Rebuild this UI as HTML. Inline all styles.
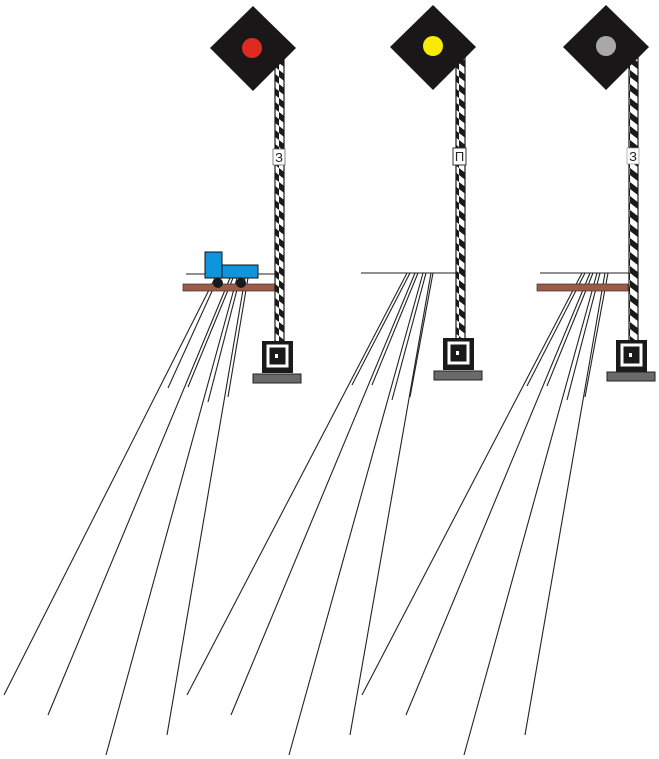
<!DOCTYPE html>
<html><head><meta charset="utf-8"><style>body{margin:0;background:#fff}svg{display:block}</style></head>
<body>
<svg width="659" height="759" viewBox="0 0 659 759" xmlns="http://www.w3.org/2000/svg" font-family="Liberation Sans, DejaVu Sans, sans-serif">
<defs>
<pattern id="st" width="9" height="14" patternUnits="userSpaceOnUse">
<rect width="9" height="14" fill="#fff"/>
<polygon points="0,0 9,7 9,14 0,7" fill="#1a1a1a"/>
</pattern>
<g id="base">
<rect x="0" y="0" width="31" height="32" fill="#1a1a1a"/>
<rect x="6" y="5" width="19" height="20" fill="none" stroke="#fff" stroke-width="3"/>
<rect x="13" y="13" width="3" height="4" fill="#fff"/>
</g>
</defs>
<g stroke="#222" stroke-width="1.1" fill="none">
<line x1="186" y1="274" x2="278" y2="274"/>
<line x1="215" y1="278" x2="4" y2="695"/><line x1="218" y1="278" x2="168" y2="388"/>
<line x1="230" y1="278" x2="48" y2="715"/><line x1="233" y1="278" x2="188" y2="387"/>
<line x1="237" y1="278" x2="106" y2="755"/><line x1="240" y1="278" x2="208" y2="402"/>
<line x1="245" y1="278" x2="167" y2="735"/><line x1="248" y1="278" x2="228" y2="397"/>
<line x1="361" y1="273" x2="458" y2="273"/>
<line x1="407" y1="273" x2="187" y2="695"/><line x1="410" y1="273" x2="352" y2="385"/>
<line x1="415" y1="273" x2="231" y2="715"/><line x1="418" y1="273" x2="372" y2="385"/>
<line x1="423" y1="273" x2="289" y2="755"/><line x1="426" y1="273" x2="392" y2="400"/>
<line x1="431" y1="273" x2="350" y2="735"/><line x1="433" y1="273" x2="410" y2="397"/>
<line x1="540" y1="273" x2="630" y2="273"/>
<line x1="582" y1="273" x2="362" y2="695"/><line x1="585" y1="273" x2="527" y2="386"/>
<line x1="590" y1="273" x2="406" y2="715"/><line x1="593" y1="273" x2="547" y2="386"/>
<line x1="597" y1="273" x2="464" y2="755"/><line x1="600" y1="273" x2="567" y2="400"/>
<line x1="605" y1="273" x2="525" y2="735"/><line x1="608" y1="273" x2="585" y2="397"/>
</g>
<rect x="183" y="284" width="92" height="7" fill="#9c5a48" stroke="#333" stroke-width="0.7"/>
<rect x="537" y="284" width="91" height="7" fill="#9c5a48" stroke="#333" stroke-width="0.7"/>
<rect x="205" y="252" width="17" height="26" fill="#0e95dc" stroke="#111"/>
<rect x="222" y="265" width="36" height="13" fill="#0e95dc" stroke="#111"/>
<circle cx="218" cy="283" r="5" fill="#1a1a1a"/><circle cx="241" cy="283" r="5" fill="#1a1a1a"/>
<rect x="275" y="58" width="9" height="284" fill="url(#st)" stroke="#1a1a1a" stroke-width="1.2"/>
<rect x="456" y="56" width="9" height="284" fill="url(#st)" stroke="#1a1a1a" stroke-width="1.2"/>
<rect x="629" y="56" width="9" height="286" fill="url(#st)" stroke="#1a1a1a" stroke-width="1.2"/>
<rect x="273" y="149" width="12" height="16" fill="#fff" stroke="#555" stroke-width="0.7"/>
<text x="279" y="162" font-size="13" text-anchor="middle" fill="#222">З</text>
<rect x="453" y="148" width="13" height="17" fill="#fff" stroke="#333" stroke-width="1"/>
<text x="459.5" y="161" font-size="13" text-anchor="middle" fill="#222">П</text>
<rect x="627" y="148" width="12" height="16" fill="#fff" stroke="#888" stroke-width="0.6"/>
<text x="633" y="161" font-size="13" text-anchor="middle" fill="#222">З</text>
<polygon points="253,6 296,48 253,91 210,48" fill="#1a1718"/>
<circle cx="252" cy="48" r="10" fill="#dd2a22"/>
<polygon points="433,5 476,47 433,90 390,47" fill="#1a1718"/>
<circle cx="433" cy="46" r="10" fill="#f8ea00"/>
<polygon points="606,5 649,47 606,90 563,47" fill="#1a1718"/>
<circle cx="606" cy="46" r="10" fill="#a8a8a8"/>
<use href="#base" x="262" y="341"/>
<rect x="253" y="374" width="48" height="9" fill="#6a6a6a" stroke="#222"/>
<use href="#base" x="443" y="338"/>
<rect x="434" y="371" width="48" height="9" fill="#6a6a6a" stroke="#222"/>
<use href="#base" x="616" y="340"/>
<rect x="607" y="372" width="48" height="9" fill="#6a6a6a" stroke="#222"/>
</svg>
</body></html>
